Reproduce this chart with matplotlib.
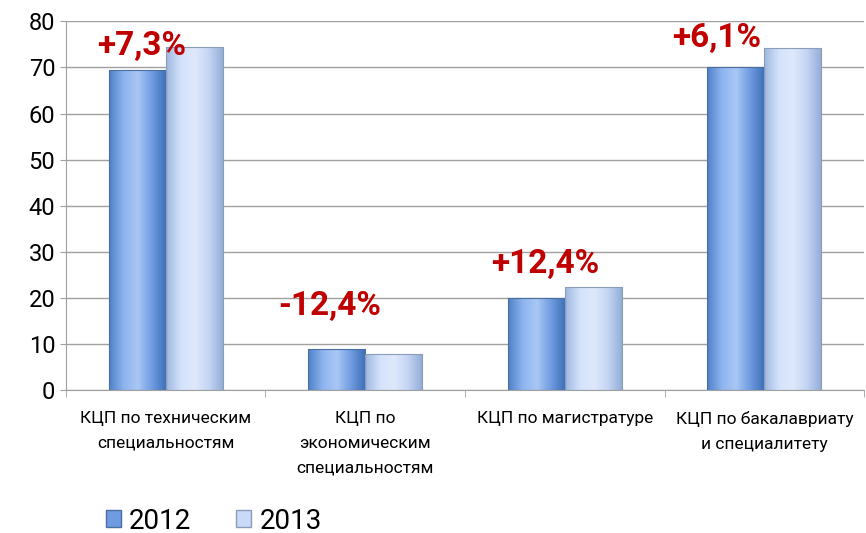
import numpy as np
import matplotlib.pyplot as plt
from matplotlib.colors import LinearSegmentedColormap
from matplotlib.patches import Patch

categories = ['КЦП по техническим\nспециальностям',
              'КЦП по\nэкономическим\nспециальностям',
              'КЦП по магистратуре',
              'КЦП по бакалавриату\nи специалитету']
v2012 = [69.5, 8.9, 20.0, 70.0]
v2013 = [74.5, 7.8, 22.4, 74.3]
changes = ['+7,3%', '-12,4%', '+12,4%', '+6,1%']
years = ['2012', '2013']

plt.rcParams['font.family'] = ['Roboto', 'DejaVu Sans']

fig = plt.figure(figsize=(8.66, 5.33), dpi=100)
ax = fig.add_axes([0.076, 0.268, 0.922, 0.692])

# градиенты как в Excel
cm1 = LinearSegmentedColormap.from_list('c1', ['#4f81c9', '#8db4ef', '#a9c7f5', '#6f9be0', '#3d6fb8'])
cm2 = LinearSegmentedColormap.from_list('c2', ['#9fb8e0', '#d3e2fb', '#dfe9fc', '#c3d4f3', '#93acd6'])

x = np.arange(len(categories))
w = 1 / 3.5
grad = np.linspace(0, 1, 64).reshape(1, -1)

for vals, off, cm, edge in [(v2012, -w / 2, cm1, '#4a6f9f'), (v2013, w / 2, cm2, '#8a9cb8')]:
    bars = ax.bar(x + off, vals, width=w, color='none', edgecolor=edge, linewidth=0.8, zorder=3)
    for b in bars:
        im = ax.imshow(grad, cmap=cm, aspect='auto', zorder=2.5,
                       extent=[b.get_x(), b.get_x() + b.get_width(), 0, b.get_height()])
        im.set_clip_path(b)

tx = [-0.12, -0.18, -0.1, -0.24]
ty = [74.6, 18.3, 27.3, 76.3]
for i, s in enumerate(changes):
    ax.text(x[i] + tx[i], ty[i], s, color='#c00000', fontsize=24, fontweight='bold',
            ha='center', va='center', zorder=5)

ax.set_xlim(-0.5, 3.5)
ax.set_ylim(0, 80)
ax.set_yticks(range(0, 81, 10))
ax.yaxis.grid(True, color='#a0a0a0', linewidth=1)
ax.set_axisbelow(True)
ax.set_xticks(x)
ax.set_xticklabels(categories, fontsize=12.5, linespacing=1.8)
ax.set_xticks(np.arange(-0.5, 3.6, 1), minor=True)
ax.tick_params(axis='x', which='major', length=0, pad=15)
ax.tick_params(axis='x', which='minor', length=5, color='#a0a0a0')
ax.tick_params(axis='y', labelsize=17, length=4, color='#a0a0a0')
for s in ['top', 'right']:
    ax.spines[s].set_visible(False)
for s in ['left', 'bottom']:
    ax.spines[s].set_color('#a0a0a0')

handles = [Patch(facecolor='#6f9be0', edgecolor='#4a6f9f'),
           Patch(facecolor='#c9daf6', edgecolor='#8a9cb8')]
fig.legend(handles, years, loc='lower left', bbox_to_anchor=(0.093, -0.05), ncol=2,
           frameon=False, fontsize=20, handlelength=0.55, handleheight=0.55,
           handletextpad=0.3, columnspacing=1.6)

fig.savefig('out.png', dpi=100)
